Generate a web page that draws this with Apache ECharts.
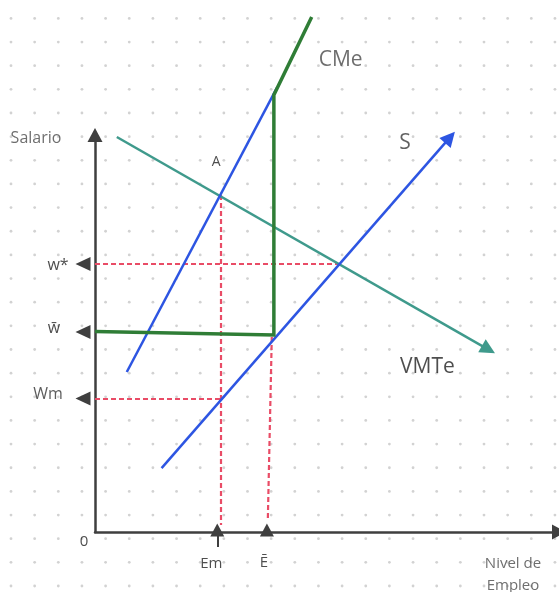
<!DOCTYPE html>
<html>
<head>
<meta charset="utf-8">
<title>Monopsonio - salario minimo</title>
<script src="https://cdn.jsdelivr.net/npm/echarts@6/dist/echarts.min.js"></script>
<style>
  html, body { margin: 0; padding: 0; background: #fff; }
  #grafico { width: 559px; height: 592px; }
</style>
</head>
<body>
<div id="grafico"></div>
<script>
// datos (unidades del eje, 0..20 en cada eje)
var curvaCMeLinea = [[1.37, 8.06], [7.84, 22.37]];
var curvaCMeVerde = [[9.34, 25.94], [7.71, 22.02], [7.71, 9.92], [0, 10.1]];
var curvaS = [[2.87, 3.22], [15.30, 19.88]];
var curvaVMTe = [[0.94, 19.90], [16.96, 9.19]];
var puntoA = [5.40, 16.98];
var cruceSVMTe = [10.49, 13.50];

// marcas de los ejes
var salarios = ['w*', 'w\u0304', 'Wm'];
var valoresSalario = [13.50, 10.08, 6.72];
var empleos = ['Em', '\u0112'];
var valoresEmpleo = [5.27, 7.41];

// lineas punteadas
var guiaWEstrella = [[0, cruceSVMTe[1]], cruceSVMTe];
var guiaWm = [[0, 6.70], [5.40, 6.70]];
var guiaEm = [[5.42, puntoA[1]], [5.42, 0.35]];
var guiaE = [[7.62, 9.82], [7.45, 0.65]];
var colaEm = [[5.27, 0], [5.27, -0.76]];

var grafico = echarts.init(document.getElementById('grafico'));

// fondo de puntos
var fondo = document.createElement('canvas');
fondo.width = 559;
fondo.height = 592;
var ctx = fondo.getContext('2d');
ctx.fillStyle = '#ffffff';
ctx.fillRect(0, 0, 559, 592);
ctx.fillStyle = '#d2d2d2';
for (var i = 0; i < 25; i++) {
  for (var j = 0; j < 26; j++) {
    ctx.beginPath();
    ctx.arc(11 + i * 23.65, 18.4 + j * 23.65, 1.4, 0, Math.PI * 2);
    ctx.fill();
  }
}

var azul = '#2d55e2';
var verde = '#2f7d36';
var teal = '#3f9a8c';
var rojo = '#e94c66';
var eje = '#3f3f3f';
var fuente = 'Open Sans';

function etiqueta(texto, punto, dx, dy, tam, color) {
  return {
    value: punto,
    label: {
      show: true,
      position: 'inside',
      formatter: texto,
      offset: [dx, dy],
      fontSize: tam,
      color: color,
      fontFamily: fuente,
      lineHeight: 22
    }
  };
}

var etiquetas = [
  etiqueta('Salario', [0, 20], -59, 3, 16, '#4a4a4a'),
  etiqueta(salarios[0], [0, valoresSalario[0]], -37, 1, 16, '#222'),
  etiqueta(salarios[1], [0, valoresSalario[1]], -41, -3, 16, '#222'),
  etiqueta(salarios[2], [0, valoresSalario[2]], -47, -4, 16, '#333'),
  etiqueta('0', [0, 0], -11, 10, 15, '#222'),
  etiqueta(empleos[0], [valoresEmpleo[0], 0], -6, 32, 15, '#222'),
  etiqueta(empleos[1], [valoresEmpleo[1], 0], -3, 31, 15, '#222'),
  etiqueta('Nivel de\nEmpleo', [20, 0], -46, 43, 15, '#4a4a4a'),
  etiqueta('CMe', curvaCMeVerde[0], 29, 43, 21, '#4a4a4a'),
  etiqueta('S', curvaS[1], -45, 6, 21, '#3a3a3a'),
  etiqueta('VMTe', curvaVMTe[1], -61, 17, 21, '#222'),
  etiqueta('A', puntoA, -4, -33, 14, '#222')
];

var option = {
  animation: false,
  graphic: {
    elements: [{
      type: 'image',
      left: 0,
      top: 0,
      z: -10,
      style: { image: fondo, width: 559, height: 592 }
    }]
  },
  grid: { left: 95, top: 135, width: 467, height: 397 },
  xAxis: {
    type: 'value', min: 0, max: 20,
    axisLine: {
      show: true, onZero: false,
      symbol: ['none', 'triangle'], symbolSize: [15, 14],
      lineStyle: { color: eje, width: 2.5 }
    },
    axisTick: { show: false }, axisLabel: { show: false }, splitLine: { show: false }
  },
  yAxis: {
    type: 'value', min: 0, max: 20,
    axisLine: {
      show: true, onZero: false,
      symbol: ['none', 'triangle'], symbolSize: [15, 14],
      lineStyle: { color: eje, width: 2.5 }
    },
    axisTick: { show: false }, axisLabel: { show: false }, splitLine: { show: false }
  },
  series: [
    {
      // lineas punteadas de referencia
      type: 'lines', coordinateSystem: 'cartesian2d', clip: false, z: 3,
      lineStyle: { color: rojo, width: 2.2, type: [5, 3], opacity: 1 },
      data: [
        { coords: guiaWEstrella },
        { coords: guiaWm },
        { coords: guiaEm },
        { coords: guiaE }
      ]
    },
    {
      type: 'lines', coordinateSystem: 'cartesian2d', clip: false, z: 3,
      lineStyle: { color: eje, width: 2, opacity: 1 },
      data: [{ coords: colaEm }]
    },
    {
      // VMTe
      type: 'lines', coordinateSystem: 'cartesian2d', clip: false, z: 4,
      symbol: ['none', 'triangle'], symbolSize: 15,
      lineStyle: { color: teal, width: 2.5, opacity: 1 },
      data: [{ coords: curvaVMTe }]
    },
    {
      // S
      type: 'lines', coordinateSystem: 'cartesian2d', clip: false, z: 5,
      symbol: ['none', 'triangle'], symbolSize: 15,
      lineStyle: { color: azul, width: 2.5, opacity: 1 },
      data: [{ coords: curvaS }]
    },
    {
      type: 'lines', coordinateSystem: 'cartesian2d', clip: false, z: 5,
      lineStyle: { color: azul, width: 2.5, opacity: 1 },
      data: [{ coords: curvaCMeLinea }]
    },
    {
      // CMe con salario minimo
      type: 'lines', coordinateSystem: 'cartesian2d', clip: false, z: 6,
      polyline: true,
      lineStyle: { color: verde, width: 3.5, opacity: 1 },
      data: [{ coords: curvaCMeVerde }]
    },
    {
      // flechas del eje de salarios
      type: 'scatter', clip: false, z: 7,
      symbol: 'triangle', symbolSize: [14, 15], symbolRotate: 90, symbolOffset: [-12, 0],
      itemStyle: { color: eje, opacity: 1 },
      data: valoresSalario.map(function (v) { return [0, v]; })
    },
    {
      // flechas del eje de empleo
      type: 'scatter', clip: false, z: 7,
      symbol: 'triangle', symbolSize: [14, 13], symbolOffset: [0, -2],
      itemStyle: { color: eje, opacity: 1 },
      data: valoresEmpleo.map(function (v) { return [v, 0]; })
    },
    {
      type: 'scatter', clip: false, z: 8,
      symbolSize: 0,
      silent: true,
      data: etiquetas
    }
  ]
};

grafico.setOption(option);
</script>
</body>
</html>
